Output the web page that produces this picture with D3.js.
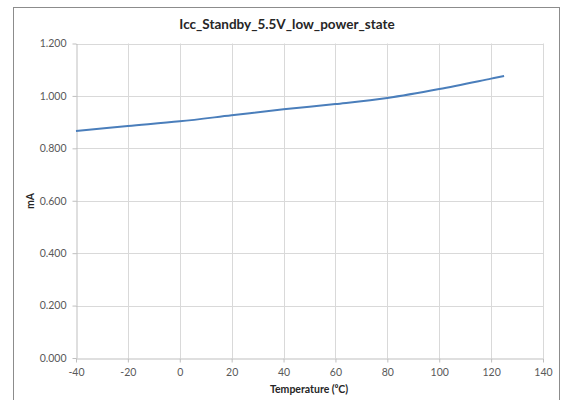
<!DOCTYPE html>
<html><head><meta charset="utf-8">
<script src="https://cdn.jsdelivr.net/npm/d3@7"></script>
<style>body{margin:0;background:#fff}svg{display:block}</style>
</head><body>
<script>
const chartTitle = "Icc_Standby_5.5V_low_power_state";
const xTitle = "Temperature (⁰C)";
const yTitle = "mA";
const temperatures = [-40, -20, 0, 20, 40, 60, 80, 100, 120, 125];
const iccValues = [0.866, 0.885, 0.903, 0.926, 0.949, 0.969, 0.992, 1.026, 1.066, 1.076];
const xTicks = [-40, -20, 0, 20, 40, 60, 80, 100, 120, 140];
const yTicks = [0, 0.2, 0.4, 0.6, 0.8, 1.0, 1.2];

const W = 562, H = 400;
const svg = d3.select("body").append("svg").attr("width", W).attr("height", H);
const font = "Lato, 'Open Sans', sans-serif";

svg.append("rect").attr("x", 13.5).attr("y", 7.5).attr("width", 546).attr("height", 400)
  .attr("fill", "#fff").attr("stroke", "#8c8c8c").attr("stroke-width", 1);

const x = d3.scaleLinear().domain([-40, 140]).range([76, 543]);
const y = d3.scaleLinear().domain([0, 1.2]).range([358, 43.5]);

// gridlines
svg.append("g").selectAll("line").data(xTicks.slice(1)).join("line")
  .attr("x1", d => Math.round(x(d)) + 0.5).attr("x2", d => Math.round(x(d)) + 0.5)
  .attr("y1", y(1.2)).attr("y2", y(0)).attr("stroke", "#d9d9d9");
svg.append("g").selectAll("line").data(yTicks.slice(1)).join("line")
  .attr("x1", x(-40)).attr("x2", x(140))
  .attr("y1", d => Math.round(y(d)) + 0.5).attr("y2", d => Math.round(y(d)) + 0.5).attr("stroke", "#d9d9d9");

// axes
const xAxis = svg.append("g").attr("transform", `translate(0,${Math.round(y(0)) + 0.5})`)
  .call(d3.axisBottom(x).tickValues(xTicks).tickFormat(d => String(d)).tickSize(4).tickSizeOuter(0).tickPadding(6));
const yAxis = svg.append("g").attr("transform", `translate(${Math.round(x(-40)) + 0.5},0)`)
  .call(d3.axisLeft(y).tickValues(yTicks).tickFormat(d3.format(".3f")).tickSize(4).tickSizeOuter(0).tickPadding(6));
[xAxis, yAxis].forEach(a => {
  a.selectAll(".domain").attr("stroke", "#bfbfbf");
  a.selectAll(".tick line").attr("stroke", "#bfbfbf");
  a.selectAll("text").attr("fill", "#595959").style("font-family", font).style("font-size", "10.5px");
});
xAxis.selectAll(".tick line").attr("y1", 0).attr("y2", 4);

// line
const line = d3.line().x((d, i) => x(temperatures[i])).y(d => y(d)).curve(d3.curveCatmullRom.alpha(0.5));
svg.append("path").datum(iccValues).attr("d", line)
  .attr("fill", "none").attr("stroke", "#4a7ebb").attr("stroke-width", 2);

// titles
svg.append("text").attr("x", 287).attr("y", 29).attr("text-anchor", "middle")
  .style("font-family", font).style("font-weight", "bold").style("font-size", "13.5px")
  .attr("fill", "#262626").text(chartTitle);
svg.append("text").attr("x", 309).attr("y", 393).attr("text-anchor", "middle")
  .style("font-family", font).style("font-weight", "bold").style("font-size", "10.5px")
  .attr("fill", "#262626").text(xTitle);
svg.append("text").attr("transform", "translate(34,201) rotate(-90)").attr("text-anchor", "middle")
  .style("font-family", font).style("font-weight", "bold").style("font-size", "10.5px")
  .attr("fill", "#262626").text(yTitle);
</script>
</body></html>
